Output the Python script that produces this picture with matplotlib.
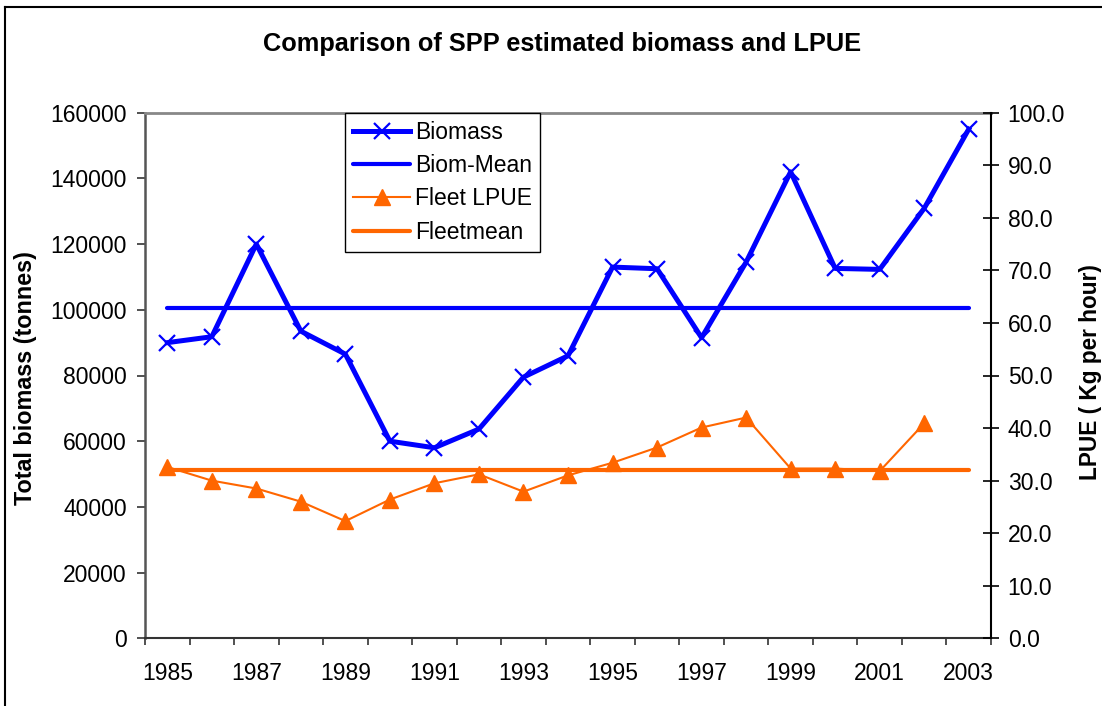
import matplotlib
matplotlib.use("Agg")
import matplotlib.pyplot as plt
import numpy as np
from matplotlib.lines import Line2D

plt.rcParams['font.family'] = ['Liberation Sans', 'DejaVu Sans']

years = [1985, 1986, 1987, 1988, 1989, 1990, 1991, 1992, 1993, 1994,
         1995, 1996, 1997, 1998, 1999, 2000, 2001, 2002, 2003]
biomass = [90000, 91800, 120000, 93500, 86500, 60000, 58000, 63700, 79500, 86000,
           113000, 112500, 91500, 114500, 142000, 112600, 112300, 130900, 155000]
biom_mean = [100600] * 19
fleet_lpue = [32.6, 30.0, 28.5, 26.0, 22.3, 26.4, 29.5, 31.2, 27.9, 31.0,
              33.4, 36.3, 40.1, 42.0, 32.3, 32.3, 31.8, 40.9, np.nan]
fleet_mean = [32.1] * 19

W, H = 1102, 706
AX_L, AX_R, AX_T, AX_B = 145, 991, 112.7, 638.3
fig = plt.figure(figsize=(W / 100, H / 100), dpi=100)
ax = fig.add_axes([AX_L / W, 1 - AX_B / H, (AX_R - AX_L) / W, (AX_B - AX_T) / H])
ax2 = ax.twinx()

x = np.arange(len(years))
blue = '#0000FF'
orange = '#FF6600'
fs = 16.5

h1, = ax.plot(x, biomass, color=blue, lw=3.6, marker='x', ms=11, mew=1.6, label='Biomass', zorder=4)
h2, = ax.plot(x, biom_mean, color=blue, lw=3.0, solid_capstyle='round', label='Biom-Mean', zorder=3)
h3, = ax2.plot(x, fleet_lpue, color=orange, lw=1.5, marker='^', ms=11, label='Fleet LPUE', zorder=4)
h4, = ax2.plot(x, fleet_mean, color=orange, lw=3.0, solid_capstyle='round', label='Fleetmean', zorder=3)

ax.set_xlim(-0.5, len(years) - 0.5)
ax.set_ylim(0, 160000)
ax2.set_ylim(0, 100)
ax.set_yticks(np.arange(0, 160001, 20000))
ax.set_yticklabels([f"{int(v)}" for v in np.arange(0, 160001, 20000)])
ax2.set_yticks(np.arange(0, 101, 10))
ax2.set_yticklabels([f"{v:.1f}" for v in np.arange(0, 101, 10)])

ax.set_xticks(x[::2])
ax.set_xticklabels([str(y) for y in years[::2]])
ax.set_xticks(np.arange(-0.5, len(years), 1), minor=True)
ax.tick_params(axis='x', which='major', length=0, pad=17, labelsize=fs)
ax.tick_params(axis='x', which='minor', length=5, width=1.2, direction='out', color='#333333')
ax.tick_params(axis='y', length=6, width=1.2, direction='out', pad=7, labelsize=fs, color='#333333')
ax2.tick_params(axis='y', length=12, width=1.2, direction='inout', pad=6, labelsize=fs)

ax.spines['top'].set_color('#888888')
ax.spines['top'].set_linewidth(2)
ax.spines['left'].set_color('#555555')
ax.spines['left'].set_linewidth(1.8)
ax.spines['bottom'].set_color('#333333')
ax.spines['bottom'].set_linewidth(1.5)
ax.spines['right'].set_visible(False)
for s in ['top', 'left', 'bottom']:
    ax2.spines[s].set_visible(False)
ax2.spines['right'].set_color('black')
ax2.spines['right'].set_linewidth(1.5)

axw = AX_R - AX_L
axh = AX_B - AX_T
ax.set_ylabel('Total biomass (tonnes)', fontsize=16.8, fontweight='bold')
ax.yaxis.set_label_coords((37 - AX_L) / axw, (AX_B - 378) / axh)
ax2.set_ylabel('LPUE ( Kg per hour)', fontsize=16.3, fontweight='bold')
ax2.yaxis.set_label_coords((1079 - AX_L) / axw, (AX_B - 372) / axh)

fig.text(562 / W, 1 - 44 / H, 'Comparison of SPP estimated biomass and LPUE',
         ha='center', va='center', fontsize=18.3, fontweight='bold')

leg = ax2.legend(handles=[h1, h2, h3, h4], loc='upper left',
                 bbox_to_anchor=((345 - AX_L) / axw, 1.0),
                 prop={'size': fs}, frameon=True, fancybox=False, edgecolor='black',
                 framealpha=1, handlelength=2.5, handletextpad=0.2,
                 borderpad=0.35, labelspacing=0.45, borderaxespad=0)
leg.get_frame().set_linewidth(1.0)

fig.add_artist(Line2D([5 / W, 5 / W], [0, 1 - 7 / H], color='black', lw=1.5, transform=fig.transFigure))
fig.add_artist(Line2D([5 / W, 1], [1 - 7 / H, 1 - 7 / H], color='black', lw=1.5, transform=fig.transFigure))

fig.savefig('out.png', dpi=100)
